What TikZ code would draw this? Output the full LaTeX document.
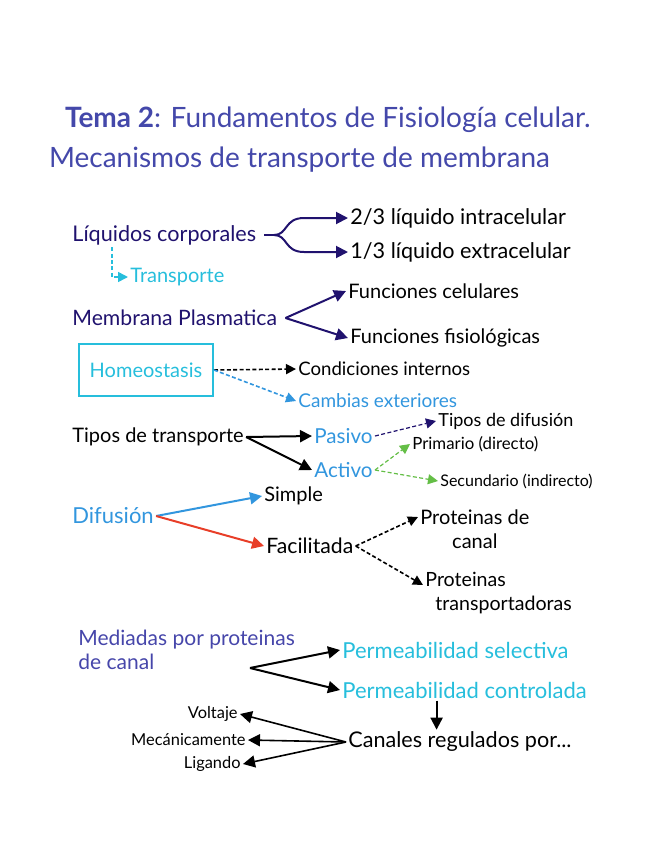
\documentclass[tikz,border=0pt]{standalone}
\usepackage{fontspec}
\setmainfont{Lato}
\usetikzlibrary{arrows.meta, positioning}
\definecolor{TitleBlue}{RGB}{68,72,170}
\definecolor{NavyInk}{RGB}{32,18,110}
\definecolor{CyanInk}{RGB}{38,190,220}
\definecolor{SkyInk}{RGB}{50,150,222}
\definecolor{GreenInk}{RGB}{100,190,70}
\definecolor{RedInk}{RGB}{232,62,40}
\definecolor{PurpleInk}{RGB}{70,70,170}

\begin{document}
\begin{tikzpicture}[x=0.5pt,y=-0.5pt,
    lbl/.style={anchor=west,inner sep=1pt,font=\fontsize{10}{12}\selectfont},
    fsz/.style={font=\fontsize{#1}{12}\selectfont},
    arr/.style={-{Triangle[length=6pt,width=6pt]},line width=1pt},
    dotarr/.style={-{Triangle[length=5pt,width=5pt]},line width=0.8pt,dashed,dash pattern=on 2pt off 1.2pt}]
  \useasboundingbox (0,0) rectangle (646,848);
  % title
  \node[anchor=west,text=TitleBlue,font=\fontsize{14}{15}\selectfont] (tit1) at (58,120)
    {\textbf{Tema 2}: Fundamentos de Fisiología celular.};
  \node[anchor=west,text=TitleBlue,font=\fontsize{14}{15}\selectfont] (tit2) at (42,160)
    {Mecanismos de transporte de membrana};
  % liquidos
  \node[lbl,fsz=10.8,text=NavyInk] (liq) at (70,235) {Líquidos corporales};
  \node[lbl,fsz=10.8] (intra) at (348,218) {2/3 líquido intracelular};
  \node[lbl,fsz=10.8] (extra) at (348,252) {1/3 líquido extracelular};
  \node[lbl,text=CyanInk] (trans) at (128,277) {Transporte};
  \coordinate (br) at (274,235);
  \draw[line width=1pt,NavyInk] ([xshift=3pt]liq.east) -- (br);
  \draw[arr,NavyInk] (br) .. controls (288,235) and (284,218) .. (304,218) -- (intra.west);
  \draw[arr,NavyInk] (br) .. controls (288,235) and (284,252) .. (304,252) -- (extra.west);
  \draw[dotarr,CyanInk] ([xshift=21pt]liq.south west) |- (trans.west);
  % membrana
  \node[lbl,fsz=10.6,text=NavyInk] (memb) at (70,318) {Membrana Plasmatica};
  \node[lbl] (fcel) at (346,291) {Funciones celulares};
  \node[lbl] (ffis) at (348,338) {Funciones fisiológicas};
  \draw[arr,NavyInk] ([xshift=3pt]memb.east) -- (fcel.west);
  \draw[arr,NavyInk] ([xshift=3pt]memb.east) -- (ffis.west);
  % homeostasis
  \node[draw=CyanInk,line width=1pt,text=CyanInk,minimum width=67pt,minimum height=26pt,
    font=\fontsize{10}{12}\selectfont] (homeo) at (146,370) {Homeostasis};
  \node[lbl,fsz=9.3] (cond) at (296,369) {Condiciones internos};
  \node[lbl,fsz=9.5,text=SkyInk] (camb) at (296,401) {Cambias exteriores};
  \draw[dotarr] (homeo.east) -- (cond.west);
  \draw[dotarr,SkyInk] (homeo.east) -- (camb.west);
  % tipos de transporte
  \node[lbl] (tipos) at (70,437) {Tipos de transporte};
  \node[lbl,fsz=10.3,text=SkyInk] (pas) at (312,436) {Pasivo};
  \node[lbl,fsz=10.3,text=SkyInk] (act) at (312,470) {Activo};
  \node[lbl,fsz=9] (tdif) at (436,421) {Tipos de difusión};
  \node[lbl,fsz=8.4] (prim) at (410,444) {Primario (directo)};
  \node[lbl,fsz=8] (sec) at (438,481) {Secundario (indirecto)};
  \draw[arr] (tipos.east) -- (pas.west);
  \draw[arr] (tipos.east) -- (act.west);
  \draw[dotarr,NavyInk,line width=0.6pt] (pas.east) -- (tdif.west);
  \draw[dotarr,GreenInk,line width=0.6pt] (act.east) -- (prim.west);
  \draw[dotarr,GreenInk,line width=0.6pt] (act.east) -- (sec.west);
  % difusion
  \node[lbl,fsz=11,text=SkyInk] (dif) at (70,516) {Difusión};
  \node[lbl] (simp) at (262,496) {Simple};
  \node[lbl,fsz=10.6] (fac) at (264,546) {Facilitada};
  \node[lbl,align=center] (pcan) at (418,529) {Proteinas de\\canal};
  \node[lbl,fsz=9.8,align=left] (ptra) at (423,593) {Proteinas\\\hspace*{5pt}transportadoras};
  \draw[arr,SkyInk] (dif.east) -- (simp.west);
  \draw[arr,RedInk] (dif.east) -- (fac.west);
  \draw[dotarr] (fac.east) -- ([yshift=6pt]pcan.west);
  \draw[dotarr] (fac.east) -- ([yshift=4pt]ptra.west);
  % canales
  \node[lbl,fsz=10.5,align=left,text=PurpleInk] (med) at (76,650) {Mediadas por proteinas\\de canal};
  \node[lbl,fsz=11,text=CyanInk] (psel) at (340,650) {Permeabilidad selectiva};
  \node[lbl,fsz=11,text=CyanInk] (pcon) at (340,690) {Permeabilidad controlada};
  \node[lbl,fsz=10.8] (canr) at (346,742) {Canales regulados por...};
  \node[lbl,fsz=8.2,anchor=east] (volt) at (240,714) {Voltaje};
  \node[lbl,fsz=8.2,anchor=east] (mec) at (248,740) {Mecánicamente};
  \node[lbl,fsz=8.2,anchor=east] (lig) at (243,764) {Ligando};
  \coordinate (mp) at (250,668);
  \draw[arr] (mp) -- (psel.west);
  \draw[arr] (mp) -- (pcon.west);
  \draw[arr] ([xshift=-14pt]pcon.south) -- ([xshift=-14pt]pcon.south |- canr.north);
  \draw[arr,line width=0.8pt] (canr.west) -- (volt.east);
  \draw[arr,line width=0.8pt] (canr.west) -- (mec.east);
  \draw[arr,line width=0.8pt] (canr.west) -- (lig.east);
\end{tikzpicture}
\end{document}
